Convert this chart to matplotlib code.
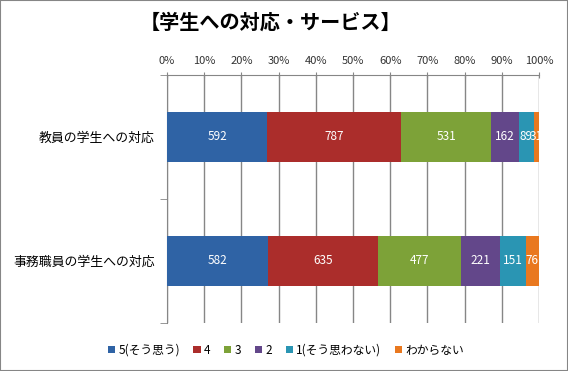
import matplotlib
matplotlib.use("Agg")
import matplotlib.pyplot as plt
import numpy as np
from matplotlib.patches import Rectangle

plt.rcParams['font.family'] = ['Noto Sans CJK JP', 'DejaVu Sans']

# data
categories = ['教員の学生への対応', '事務職員の学生への対応']
series = ['5(そう思う)', '4', '3', '2', '1(そう思わない)', 'わからない']
counts = [
    [592, 787, 531, 162, 89, 31],
    [582, 635, 477, 221, 151, 76],
]
colors = ['#2F63A5', '#AB2D2B', '#7DA238', '#63478A', '#2A95B3', '#E9781F']
title = '【学生への対応・サービス】'

counts = np.array(counts, dtype=float)
pct = counts / counts.sum(axis=1, keepdims=True) * 100

fig = plt.figure(figsize=(5.68, 3.71), dpi=100)
ax = fig.add_axes([167/568, 1-323/371, (539-167)/568, (323-75)/371])

y = np.array([1, 0])  # top category first
left = np.zeros(len(categories))
for j, name in enumerate(series):
    ax.barh(y, pct[:, j], left=left, height=0.4, color=colors[j],
            label=name, zorder=3)
    for i in range(len(categories)):
        ax.text(left[i] + pct[i, j]/2, y[i], '%d' % counts[i, j],
                ha='center', va='center', color='white', fontsize=8.5, zorder=4)
    left += pct[:, j]

ax.set_xlim(0, 100)
ax.set_ylim(-0.5, 1.5)
ax.set_xticks(np.arange(0, 101, 10))
ax.set_xticklabels(['%d%%' % v for v in range(0, 101, 10)], fontsize=8, color='#333333')
ax.xaxis.tick_top()
ax.tick_params(axis='x', length=5, direction='inout', color='#868686', pad=4)
ax.set_yticks(y)
ax.set_yticklabels(categories, fontsize=9.3)
ax.set_yticks([-0.5, 0.5, 1.5], minor=True)
ax.tick_params(axis='y', which='major', length=0, pad=9)
ax.tick_params(axis='y', which='minor', length=5, color='#868686')
ax.grid(axis='x', color='#868686', linewidth=1, zorder=0)
for s in ['right', 'bottom']:
    ax.spines[s].set_visible(False)
for s in ['left', 'top']:
    ax.spines[s].set_color('#868686')

fig.text(270/568, 1-22/371, title, ha='center', va='center', fontsize=14.5, fontweight='bold')

handles, labels = ax.get_legend_handles_labels()
fig.legend(handles, labels, loc='center', bbox_to_anchor=(286/568, 1-350/371), ncol=6,
           frameon=False, fontsize=8.5, handlelength=0.6, handleheight=0.6,
           handletextpad=0.3, columnspacing=1.15)

fig.patches.append(Rectangle((0, 0), 1, 1, transform=fig.transFigure, fill=False,
                             edgecolor='#868686', linewidth=1.5))

fig.savefig('out.png', dpi=100)
